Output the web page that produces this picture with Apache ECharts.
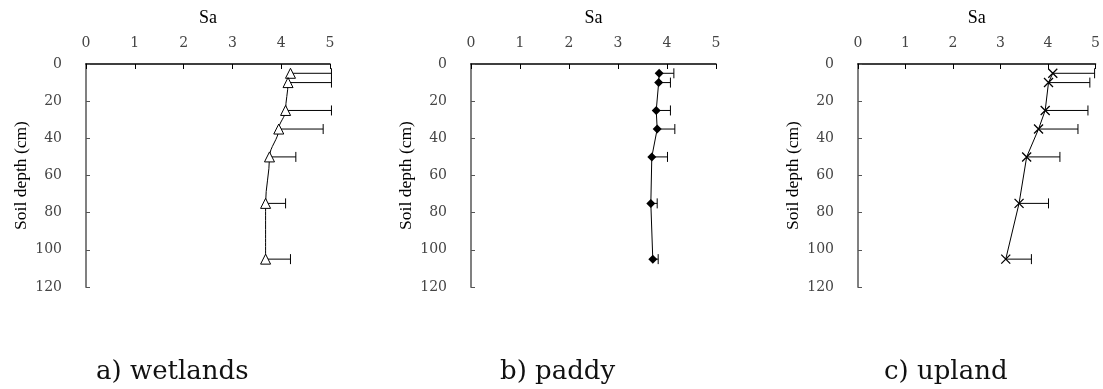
<!DOCTYPE html>
<html>
<head>
<meta charset="utf-8">
<script src="https://cdn.jsdelivr.net/npm/echarts@6/dist/echarts.min.js"></script>
<style>
  html, body { margin: 0; padding: 0; background: #fff; }
  #chart { width: 1103px; height: 389px; }
</style>
</head>
<body>
<div id="chart"></div>
<script>
// depth of each sample (cm)
const depths = [5, 10, 25, 35, 50, 75, 105];

// Sa means and upper end of error bars
const wetlandsSa = [4.19, 4.14, 4.09, 3.95, 3.76, 3.68, 3.68];
const wetlandsUpper = [5.03, 5.03, 5.03, 4.86, 4.30, 4.09, 4.19];
const paddySa = [3.84, 3.83, 3.78, 3.80, 3.69, 3.67, 3.71];
const paddyUpper = [4.14, 4.07, 4.07, 4.16, 4.01, 3.80, 3.82];
const uplandSa = [4.10, 4.01, 3.94, 3.80, 3.55, 3.39, 3.11];
const uplandUpper = [4.98, 4.88, 4.84, 4.63, 4.25, 4.01, 3.65];

const panelTitles = ['a) wetlands', 'b) paddy', 'c) upland'];
const xTicks = [0, 1, 2, 3, 4, 5];
const yTicks = [0, 20, 40, 60, 80, 100, 120];

const chart = echarts.init(document.getElementById('chart'), null, { renderer: 'canvas' });

const grids = [
  { left: 86, top: 64, width: 244, height: 223 },
  { left: 471, top: 64, width: 245, height: 223 },
  { left: 858, top: 64, width: 244, height: 223 }
];

// 坐标轴样式
function makeX(i) {
  return {
    type: 'value', gridIndex: i, position: 'top',
    min: xTicks[0], max: xTicks[xTicks.length - 1], interval: 1,
    name: 'Sa', nameLocation: 'middle', nameGap: 37,
    nameTextStyle: { fontFamily: 'Liberation Serif', fontSize: 18, color: '#000' },
    axisLine: { show: true, lineStyle: { color: '#000', width: 1.5 } },
    axisTick: { show: true, inside: true, length: 5, lineStyle: { color: '#000' } },
    axisLabel: { fontFamily: 'DejaVu Serif', fontSize: 14, color: '#444', margin: 14 },
    splitLine: { show: false }
  };
}
function makeY(i) {
  return {
    type: 'value', gridIndex: i, inverse: true,
    min: yTicks[0], max: yTicks[yTicks.length - 1], interval: 20,
    name: 'Soil depth (cm)', nameLocation: 'middle', nameGap: 56,
    nameTextStyle: { fontFamily: 'Liberation Serif', fontSize: 17.5, color: '#000' },
    axisLine: { show: true, lineStyle: { color: '#808080', width: 2 } },
    axisTick: { show: true, inside: true, length: 4, lineStyle: { color: '#555' } },
    axisLabel: { fontFamily: 'DejaVu Serif', fontSize: 14, color: '#444', margin: 24 },
    splitLine: { show: false }
  };
}

// 单侧误差棒
function errorBars(i, means, uppers) {
  return {
    type: 'custom', xAxisIndex: i, yAxisIndex: i, z: 1,
    data: depths.map((d, k) => [means[k], uppers[k], d]),
    renderItem: function (params, api) {
      const p0 = api.coord([api.value(0), api.value(2)]);
      const p1 = api.coord([api.value(1), api.value(2)]);
      const cap = 5;
      return {
        type: 'group',
        children: [
          { type: 'line', shape: { x1: p0[0], y1: p0[1], x2: p1[0], y2: p1[1] }, style: { stroke: '#000', lineWidth: 1 } },
          { type: 'line', shape: { x1: p1[0], y1: p1[1] - cap, x2: p1[0], y2: p1[1] + cap }, style: { stroke: '#000', lineWidth: 1 } }
        ]
      };
    }
  };
}

function profile(i, means, symbol, itemStyle, size, smooth) {
  return {
    type: 'line', xAxisIndex: i, yAxisIndex: i, z: 3,
    data: depths.map((d, k) => [means[k], d]),
    smooth: smooth, smoothMonotone: 'y',
    symbol: symbol, symbolSize: size, showSymbol: true,
    lineStyle: { color: '#000', width: 1 },
    itemStyle: itemStyle,
    silent: true
  };
}

const option = {
  animation: false,
  backgroundColor: '#fff',
  grid: grids,
  xAxis: [makeX(0), makeX(1), makeX(2)],
  yAxis: [makeY(0), makeY(1), makeY(2)],
  title: [
    { text: panelTitles[0], left: 96, top: 359 },
    { text: panelTitles[1], left: 500, top: 359 },
    { text: panelTitles[2], left: 884, top: 359 }
  ].map(t => Object.assign(t, {
    padding: 0,
    textStyle: { fontFamily: 'DejaVu Serif', fontSize: 26, fontWeight: 'normal', color: '#111' }
  })),
  series: [
    errorBars(0, wetlandsSa, wetlandsUpper),
    profile(0, wetlandsSa, 'triangle', { color: '#fff', borderColor: '#000', borderWidth: 1 }, 10, 0.35),
    errorBars(1, paddySa, paddyUpper),
    profile(1, paddySa, 'diamond', { color: '#000', borderColor: '#000', borderWidth: 0 }, 9, false),
    errorBars(2, uplandSa, uplandUpper),
    profile(2, uplandSa, 'path://M0,0L10,10M10,0L0,10', { color: 'none', borderColor: '#000', borderWidth: 1.3 }, 9, false)
  ]
};

chart.setOption(option);
</script>
</body>
</html>
